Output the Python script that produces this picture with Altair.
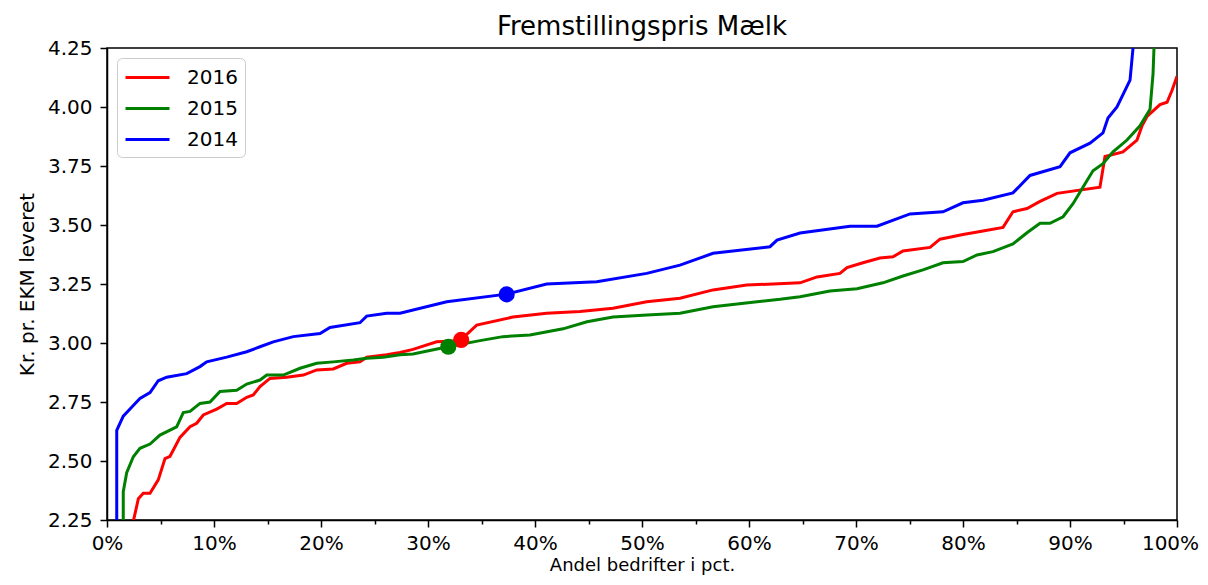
import altair as alt
import pandas as pd

# ---- data ----
years = ["2016", "2015", "2014"]
colors = ["#ff0000", "#008000", "#0000ff"]

red_x = [2.24, 2.93, 3.39, 4.02, 4.79, 5.42, 5.89, 6.82, 7.76, 8.38, 9.0, 10.25, 11.19, 12.12,
         13.06, 13.67, 14.3, 15.23, 16.79, 18.35, 19.6, 21.15, 22.4, 23.64, 24.27, 26.14, 27.38,
         28.6, 30.81, 33.0, 34.55, 37.94, 41.09, 44.2, 47.29, 50.44, 53.55, 56.64, 59.78, 62.24,
         64.77, 66.36, 68.5, 69.16, 70.65, 72.24, 73.46, 74.39, 76.92, 77.85, 80.0, 81.87, 83.74,
         84.67, 85.98, 87.2, 88.79, 92.8, 93.27, 94.95, 96.26, 96.73, 97.2, 98.41, 99.07, 99.53, 100.0]
red_y = [2.20, 2.34, 2.363, 2.363, 2.42, 2.51, 2.52, 2.60, 2.645, 2.66, 2.695, 2.72, 2.744, 2.744,
         2.77, 2.78, 2.815, 2.85, 2.855, 2.864, 2.886, 2.89, 2.914, 2.92, 2.94, 2.95, 2.96,
         2.973, 3.005, 3.01, 3.076, 3.11, 3.126, 3.133, 3.147, 3.175, 3.19, 3.225, 3.246, 3.25,
         3.255, 3.28, 3.295, 3.32, 3.34, 3.36, 3.365, 3.39, 3.405, 3.44, 3.46, 3.475, 3.49,
         3.556, 3.57, 3.60, 3.634, 3.66, 3.79, 3.81, 3.86, 3.92, 3.96, 4.01, 4.02, 4.07, 4.13]

green_x = [1.52, 1.52, 1.84, 2.46, 3.08, 4.02, 4.95, 6.51, 7.13, 7.76, 8.69, 9.63, 10.56, 12.12,
           13.06, 14.3, 14.93, 16.48, 18.04, 19.6, 21.15, 23.02, 24.27, 25.82, 27.38, 28.6, 31.87,
           34.86, 37.0, 39.53, 42.62, 44.86, 47.29, 50.47, 53.55, 56.64, 60.75, 62.9, 64.77, 67.57,
           70.09, 72.52, 74.39, 76.26, 78.13, 80.0, 81.31, 82.8, 84.67, 85.98, 87.2, 88.13, 89.35,
           90.28, 91.21, 92.15, 93.08, 94.02, 95.33, 96.54, 97.48, 97.76, 98.13]
green_y = [1.90, 2.37, 2.45, 2.518, 2.554, 2.572, 2.61, 2.645, 2.705, 2.71, 2.744, 2.75, 2.795, 2.80,
           2.826, 2.843, 2.864, 2.864, 2.893, 2.914, 2.92, 2.928, 2.935, 2.94, 2.95, 2.953, 2.984,
           3.01, 3.027, 3.034, 3.06, 3.09, 3.11, 3.119, 3.126, 3.154, 3.175, 3.185, 3.196, 3.22,
           3.23, 3.255, 3.284, 3.31, 3.34, 3.345, 3.373, 3.387, 3.42, 3.467, 3.507, 3.507, 3.535,
           3.59, 3.66, 3.73, 3.76, 3.81, 3.86, 3.92, 3.99, 4.14, 4.60]

blue_x = [0.91, 0.91, 1.52, 2.15, 3.08, 4.02, 4.79, 5.58, 7.45, 8.69, 9.32, 11.19, 13.06, 14.3,
          15.54, 17.41, 19.91, 20.84, 23.64, 24.27, 26.14, 27.38, 31.75, 37.35, 41.09, 45.77,
          50.44, 53.55, 56.64, 61.96, 62.62, 64.77, 69.44, 71.96, 75.05, 78.13, 80.0, 81.87, 84.67,
          86.26, 89.07, 90.0, 91.87, 93.08, 93.55, 94.39, 95.61, 95.89, 96.17]
blue_y = [1.90, 2.63, 2.69, 2.72, 2.765, 2.79, 2.84, 2.855, 2.87, 2.90, 2.92, 2.94, 2.963, 2.984,
          3.005, 3.027, 3.04, 3.066, 3.086, 3.114, 3.126, 3.126, 3.175, 3.207, 3.25, 3.26,
          3.295, 3.33, 3.38, 3.408, 3.436, 3.466, 3.495, 3.495, 3.547, 3.556, 3.594, 3.605, 3.636,
          3.71, 3.747, 3.806, 3.847, 3.89, 3.953, 4.0, 4.114, 4.25, 4.60]

dot_years = ["2016", "2015", "2014"]
dot_x = [33.1, 31.9, 37.35]
dot_y = [3.013, 2.984, 3.206]

x_ticks = [0, 5, 10, 15, 20, 25, 30, 35, 40, 45, 50, 55, 60, 65, 70, 75, 80, 85, 90, 95, 100]
y_ticks = [2.25, 2.5, 2.75, 3.0, 3.25, 3.5, 3.75, 4.0, 4.25]

# ---- build tables ----
rows = []
for yr, xs, ys in [("2016", red_x, red_y), ("2015", green_x, green_y), ("2014", blue_x, blue_y)]:
    for i, (a, b) in enumerate(zip(xs, ys)):
        rows.append({"year": yr, "pct": a, "value": b, "order": i})
lines_df = pd.DataFrame(rows)
dots_df = pd.DataFrame({"year": dot_years, "pct": dot_x, "value": dot_y})

FONT = "DejaVu Sans"

x_scale = alt.Scale(domain=[0, 100], nice=False, zero=False)
y_scale = alt.Scale(domain=[2.25, 4.25], nice=False, zero=False)
color_scale = alt.Scale(domain=years, range=colors)

x_axis = alt.Axis(
    values=x_ticks,
    labelExpr="datum.value % 10 === 0 ? datum.value + '%' : ''",
    tickSize={"condition": {"test": "datum.value % 10 === 0", "value": 7}, "value": 4},
    labelOffset={"condition": {"test": "datum.value === 100", "value": -7}, "value": 0},
    title="Andel bedrifter i pct.",
    titleFontSize=18,
    grid=False,
    labelFlush=False,
    labelOverlap=False,
    labelPadding=6,
    titlePadding=3,
)
y_axis = alt.Axis(
    values=y_ticks,
    format=".2f",
    tickSize=7,
    title="Kr. pr. EKM leveret",
    grid=False,
    labelFlush=False,
    labelOverlap=False,
    labelPadding=8,
    titlePadding=10,
)

lines = alt.Chart(lines_df).mark_line(strokeWidth=3, clip=True).encode(
    x=alt.X("pct:Q", scale=x_scale, axis=x_axis),
    y=alt.Y("value:Q", scale=y_scale, axis=y_axis),
    color=alt.Color(
        "year:N",
        scale=color_scale,
        legend=alt.Legend(
            title=None,
            orient="none",
            legendX=10,
            legendY=10,
            symbolType="M-2,0H2",
            symbolSize=484,
            symbolStrokeWidth=3,
            symbolOffset=11,
            labelFontSize=20,
            labelFont=FONT,
            labelColor="black",
            labelOffset=27,
            padding=7,
            rowPadding=8,
            strokeColor="#cccccc",
            fillColor="white",
            cornerRadius=5,
        ),
    ),
    order="order:Q",
    detail="year:N",
)

dots = alt.Chart(dots_df).mark_circle(size=260, opacity=1, clip=True).encode(
    x=alt.X("pct:Q", scale=x_scale),
    y=alt.Y("value:Q", scale=y_scale),
    color=alt.Color("year:N", scale=color_scale, legend=None),
)

chart = (
    alt.layer(lines, dots)
    .properties(
        width=1070,
        height=472,
        title=alt.TitleParams("Fremstillingspris Mælk", fontSize=26, font=FONT,
                              fontWeight="normal", color="black", offset=-2),
        autosize=alt.AutoSizeParams(type="none"),
        padding={"left": 99, "top": 40, "right": 23, "bottom": 57},
    )
    .configure_view(stroke="black", strokeWidth=1.5)
    .configure_axis(
        labelFont=FONT,
        titleFont=FONT,
        labelFontSize=20,
        titleFontSize=20,
        titleFontWeight="normal",
        labelColor="black",
        titleColor="black",
        domainColor="black",
        tickColor="black",
        domainWidth=1.5,
        tickWidth=1.5,
    )
    .configure_legend(labelFont=FONT)
)

chart.save("out.html", embed_options={"renderer": "svg", "actions": False})
